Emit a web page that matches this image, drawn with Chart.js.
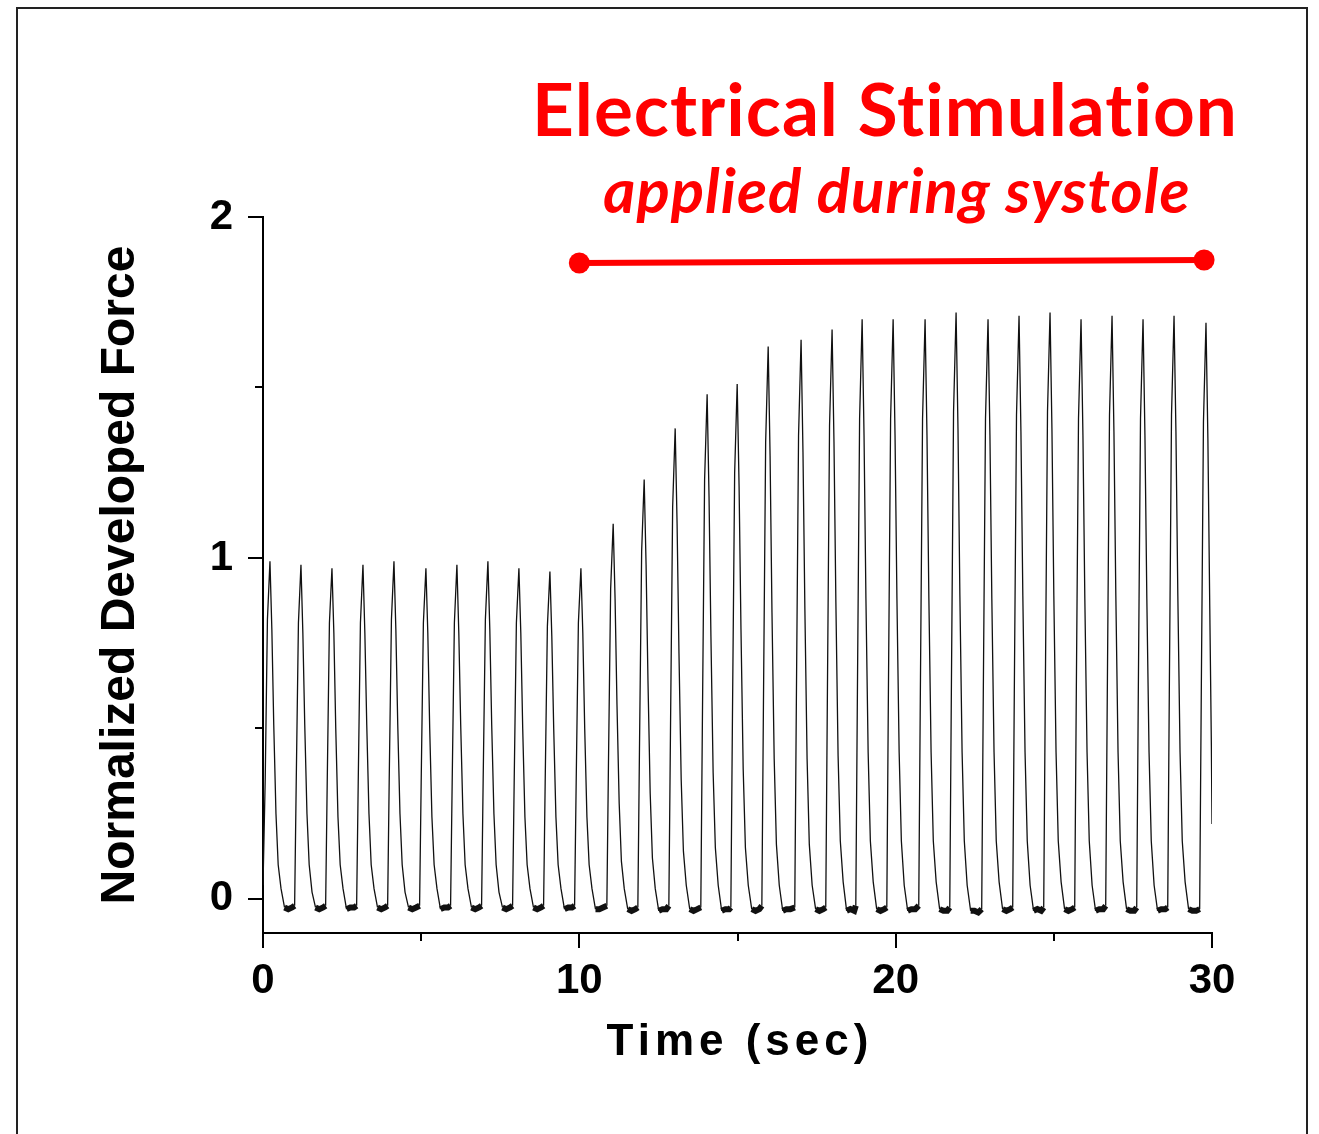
<!DOCTYPE html>
<html>
<head>
<meta charset="utf-8">
<title>Normalized Developed Force</title>
<script src="https://cdn.jsdelivr.net/npm/chart.js@4.4.1/dist/chart.umd.min.js"></script>
<style>
    body { margin: 0; background: #ffffff; }
    #chart { display: block; }
</style>
</head>
<body>
<canvas id="chart" width="1319" height="1134"></canvas>
<script>
// force trace, one beat per line (time in sec, normalized force)
var traceTime = [
    0.00, 0.07, 0.14, 0.22, 0.28, 0.34, 0.41, 0.48, 0.57, 0.68, 0.80, 0.92,
    1.00, 1.05, 1.12, 1.20, 1.26, 1.32, 1.39, 1.46, 1.55, 1.66, 1.78, 1.90,
    1.98, 2.03, 2.10, 2.18, 2.24, 2.30, 2.37, 2.44, 2.53, 2.64, 2.76, 2.88,
    2.96, 3.01, 3.08, 3.16, 3.22, 3.28, 3.35, 3.42, 3.51, 3.62, 3.74, 3.86,
    3.94, 3.99, 4.06, 4.14, 4.20, 4.26, 4.33, 4.40, 4.49, 4.60, 4.72, 4.84,
    4.95, 5.00, 5.07, 5.15, 5.21, 5.27, 5.34, 5.41, 5.50, 5.61, 5.73, 5.85,
    5.93, 5.98, 6.05, 6.13, 6.19, 6.25, 6.32, 6.39, 6.48, 6.59, 6.71, 6.83,
    6.91, 6.96, 7.03, 7.11, 7.17, 7.23, 7.30, 7.37, 7.46, 7.57, 7.69, 7.81,
    7.89, 7.94, 8.01, 8.09, 8.15, 8.21, 8.28, 8.35, 8.44, 8.55, 8.67, 8.79,
    8.87, 8.92, 8.99, 9.07, 9.13, 9.19, 9.26, 9.33, 9.42, 9.53, 9.65, 9.77,
    9.85, 9.90, 9.97, 10.05, 10.11, 10.17, 10.24, 10.31, 10.40, 10.51, 10.63, 10.75,
    10.87, 10.92, 10.99, 11.07, 11.13, 11.19, 11.26, 11.33, 11.42, 11.53, 11.65, 11.77,
    11.85, 11.90, 11.97, 12.05, 12.11, 12.17, 12.24, 12.31, 12.40, 12.51, 12.63, 12.75,
    12.83, 12.88, 12.95, 13.03, 13.09, 13.15, 13.22, 13.29, 13.38, 13.49, 13.61, 13.73,
    13.84, 13.89, 13.96, 14.04, 14.10, 14.16, 14.23, 14.30, 14.39, 14.50, 14.62, 14.74,
    14.79, 14.84, 14.91, 14.99, 15.05, 15.11, 15.18, 15.25, 15.34, 15.45, 15.57, 15.69,
    15.77, 15.82, 15.89, 15.97, 16.03, 16.09, 16.16, 16.23, 16.32, 16.43, 16.55, 16.67,
    16.81, 16.86, 16.93, 17.01, 17.07, 17.13, 17.20, 17.27, 17.36, 17.47, 17.59, 17.71,
    17.79, 17.84, 17.91, 17.99, 18.05, 18.11, 18.18, 18.25, 18.34, 18.45, 18.57, 18.69,
    18.74, 18.79, 18.86, 18.94, 19.00, 19.06, 19.13, 19.20, 19.29, 19.40, 19.52, 19.64,
    19.72, 19.77, 19.84, 19.92, 19.98, 20.04, 20.11, 20.18, 20.27, 20.38, 20.50, 20.62,
    20.73, 20.78, 20.85, 20.93, 20.99, 21.05, 21.12, 21.19, 21.28, 21.39, 21.51, 21.63,
    21.71, 21.76, 21.83, 21.91, 21.97, 22.03, 22.10, 22.17, 22.26, 22.37, 22.49, 22.61,
    22.72, 22.77, 22.84, 22.92, 22.98, 23.04, 23.11, 23.18, 23.27, 23.38, 23.50, 23.62,
    23.70, 23.75, 23.82, 23.90, 23.96, 24.02, 24.09, 24.16, 24.25, 24.36, 24.48, 24.60,
    24.68, 24.73, 24.80, 24.88, 24.94, 25.00, 25.07, 25.14, 25.23, 25.34, 25.46, 25.58,
    25.66, 25.71, 25.78, 25.86, 25.92, 25.98, 26.05, 26.12, 26.21, 26.32, 26.44, 26.56,
    26.64, 26.69, 26.76, 26.84, 26.90, 26.96, 27.03, 27.10, 27.19, 27.30, 27.42, 27.54,
    27.62, 27.67, 27.74, 27.82, 27.88, 27.94, 28.01, 28.08, 28.17, 28.28, 28.40, 28.52,
    28.60, 28.65, 28.72, 28.80, 28.86, 28.92, 28.99, 29.06, 29.15, 29.26, 29.38, 29.50,
    29.61, 29.66, 29.73, 29.81, 29.87, 29.93, 29.98, 30.00
];
var traceForce = [
    0.04, 0.35, 0.82, 0.99, 0.79, 0.51, 0.25, 0.10, 0.03, -0.025, -0.03, -0.025,
    -0.02, 0.34, 0.81, 0.98, 0.78, 0.51, 0.25, 0.10, 0.02, -0.025, -0.03, -0.025,
    -0.02, 0.34, 0.81, 0.97, 0.78, 0.50, 0.24, 0.10, 0.03, -0.03, -0.025, -0.025,
    -0.02, 0.34, 0.81, 0.98, 0.78, 0.51, 0.25, 0.10, 0.03, -0.025, -0.03, -0.025,
    -0.02, 0.35, 0.82, 0.99, 0.79, 0.51, 0.25, 0.10, 0.02, -0.025, -0.03, -0.025,
    -0.02, 0.34, 0.81, 0.97, 0.78, 0.50, 0.24, 0.10, 0.03, -0.03, -0.025, -0.025,
    -0.02, 0.34, 0.81, 0.98, 0.78, 0.51, 0.25, 0.10, 0.03, -0.025, -0.03, -0.025,
    -0.02, 0.35, 0.82, 0.99, 0.79, 0.51, 0.25, 0.10, 0.02, -0.025, -0.03, -0.025,
    -0.02, 0.34, 0.81, 0.97, 0.78, 0.50, 0.24, 0.10, 0.03, -0.025, -0.03, -0.025,
    -0.02, 0.34, 0.80, 0.96, 0.77, 0.50, 0.24, 0.10, 0.03, -0.03, -0.025, -0.025,
    -0.02, 0.34, 0.81, 0.97, 0.78, 0.50, 0.24, 0.10, 0.03, -0.03, -0.03, -0.025,
    -0.02, 0.39, 0.91, 1.10, 0.88, 0.57, 0.28, 0.11, 0.03, -0.03, -0.035, -0.03,
    -0.025, 0.43, 1.02, 1.23, 0.98, 0.64, 0.31, 0.12, 0.03, -0.035, -0.03, -0.03,
    -0.02, 0.48, 1.15, 1.38, 1.10, 0.72, 0.35, 0.14, 0.04, -0.03, -0.035, -0.03,
    -0.025, 0.52, 1.23, 1.48, 1.18, 0.77, 0.37, 0.15, 0.04, -0.035, -0.03, -0.03,
    -0.025, 0.53, 1.25, 1.51, 1.21, 0.79, 0.38, 0.15, 0.04, -0.03, -0.035, -0.03,
    -0.02, 0.57, 1.34, 1.62, 1.30, 0.84, 0.41, 0.16, 0.04, -0.035, -0.03, -0.03,
    -0.025, 0.57, 1.36, 1.64, 1.31, 0.85, 0.41, 0.16, 0.04, -0.03, -0.035, -0.03,
    -0.025, 0.58, 1.39, 1.67, 1.34, 0.87, 0.42, 0.17, 0.05, -0.035, -0.03, -0.035,
    -0.02, 0.60, 1.41, 1.70, 1.36, 0.88, 0.43, 0.17, 0.05, -0.03, -0.035, -0.03,
    -0.025, 0.60, 1.41, 1.70, 1.36, 0.88, 0.43, 0.17, 0.04, -0.035, -0.03, -0.03,
    -0.02, 0.60, 1.41, 1.70, 1.36, 0.88, 0.43, 0.17, 0.05, -0.03, -0.035, -0.035,
    -0.025, 0.60, 1.43, 1.72, 1.38, 0.89, 0.43, 0.17, 0.04, -0.035, -0.035, -0.04,
    -0.03, 0.60, 1.41, 1.70, 1.36, 0.88, 0.43, 0.17, 0.05, -0.03, -0.035, -0.03,
    -0.025, 0.60, 1.42, 1.71, 1.37, 0.89, 0.43, 0.17, 0.04, -0.035, -0.03, -0.035,
    -0.025, 0.60, 1.43, 1.72, 1.38, 0.89, 0.43, 0.17, 0.05, -0.03, -0.035, -0.03,
    -0.025, 0.60, 1.41, 1.70, 1.36, 0.88, 0.43, 0.17, 0.04, -0.035, -0.03, -0.03,
    -0.02, 0.60, 1.42, 1.71, 1.37, 0.89, 0.43, 0.17, 0.05, -0.03, -0.035, -0.035,
    -0.025, 0.60, 1.41, 1.70, 1.36, 0.88, 0.43, 0.17, 0.04, -0.035, -0.03, -0.03,
    -0.025, 0.60, 1.42, 1.71, 1.37, 0.89, 0.43, 0.17, 0.05, -0.03, -0.035, -0.035,
    -0.03, 0.59, 1.40, 1.69, 1.35, 0.85, 0.45, 0.22
];

// stimulation bar (start / end of the red line)
var stimTime = [10, 29.75];
var stimLevel = [1.865, 1.874];

var xTicks = [0, 5, 10, 15, 20, 25, 30];
var yTicks = [0, 0.5, 1, 1.5, 2];

var RED = "#ff0000";
var AXIS_FONT = "'Liberation Sans', Arial, sans-serif";

function fitFontSize(ctx, text, style, family, targetWidth) {
    ctx.font = style + " 100px " + family;
    return 100 * targetWidth / ctx.measureText(text).width;
}

var decorations = {
    id: "decorations",
    beforeDraw: function (chart) {
        var ctx = chart.ctx;
        ctx.save();
        ctx.fillStyle = "#ffffff";
        ctx.fillRect(0, 0, chart.width, chart.height);
        ctx.strokeStyle = "#222222";
        ctx.lineWidth = 2;
        ctx.strokeRect(17, 8, 1290, 1200);
        ctx.restore();
    },
    afterDraw: function (chart) {
        var ctx = chart.ctx;
        var xs = chart.scales.x;
        var ys = chart.scales.y;
        ctx.save();

        // tick marks, long for labelled ticks, short for the minor ones
        ctx.strokeStyle = "#000000";
        ctx.lineWidth = 2;
        xTicks.forEach(function (v) {
            var px = Math.round(xs.getPixelForValue(v));
            var len = v % 10 === 0 ? 15 : 8;
            ctx.beginPath();
            ctx.moveTo(px, ys.bottom);
            ctx.lineTo(px, ys.bottom + len);
            ctx.stroke();
        });
        yTicks.forEach(function (v) {
            var py = Math.round(ys.getPixelForValue(v));
            var len = v % 1 === 0 ? 15 : 8;
            ctx.beginPath();
            ctx.moveTo(xs.left, py);
            ctx.lineTo(xs.left - len, py);
            ctx.stroke();
        });

        // x axis title, letter spaced
        ctx.fillStyle = "#000000";
        ctx.font = "bold 44px " + AXIS_FONT;
        ctx.letterSpacing = "5px";
        ctx.textAlign = "left";
        ctx.textBaseline = "alphabetic";
        var title = "Time (sec)";
        var w = ctx.measureText(title).width - 5;
        ctx.fillText(title, (xs.left + xs.right) / 2 - w / 2, 1055);

        // annotation text (slight spacing keeps Lato from joining "ti")
        ctx.letterSpacing = "1px";
        ctx.fillStyle = RED;
        ctx.textAlign = "center";
        var fam = "Lato, 'Open Sans', sans-serif";
        var s1 = fitFontSize(ctx, "Electrical Stimulation", "bold", fam, 700);
        ctx.font = "bold " + s1 + "px " + fam;
        ctx.fillText("Electrical Stimulation", 885, 136);
        var s2 = fitFontSize(ctx, "applied during systole", "italic bold", fam, 579);
        ctx.font = "italic bold " + s2 + "px " + fam;
        ctx.fillText("applied during systole", 897, 213);
        ctx.letterSpacing = "0px";

        ctx.restore();
    }
};

function buildTrace() {
    var points = [];
    for (var i = 0; i < traceTime.length; i++) {
        points.push({ x: traceTime[i], y: traceForce[i] });
    }
    return points;
}

function buildStim() {
    var points = [];
    for (var i = 0; i < stimTime.length; i++) {
        points.push({ x: stimTime[i], y: stimLevel[i] });
    }
    return points;
}

var chart = new Chart(document.getElementById("chart"), {
    type: "line",
    data: {
        datasets: [
            {
                label: "Force",
                data: buildTrace(),
                borderColor: "#111111",
                borderWidth: 1.3,
                pointRadius: 0,
                tension: 0,
                segment: {
                    // the noisy diastolic baseline reads as a thick band
                    borderWidth: function (ctx) {
                        return (ctx.p0.parsed.y < 0 && ctx.p1.parsed.y < 0) ? 6 : 1.3;
                    }
                }
            },
            {
                label: "Stimulation",
                data: buildStim(),
                borderColor: RED,
                borderWidth: 6,
                pointRadius: 10.5,
                pointBackgroundColor: RED,
                pointBorderWidth: 0,
                clip: false
            }
        ]
    },
    options: {
        responsive: false,
        animation: false,
        devicePixelRatio: 1,
        layout: {
            padding: { left: 0, top: 217, right: 107, bottom: 0 }
        },
        plugins: {
            legend: { display: false },
            tooltip: { enabled: false }
        },
        scales: {
            x: {
                type: "linear",
                min: 0,
                max: 30,
                afterBuildTicks: function (scale) {
                    scale.ticks = xTicks.map(function (v) { return { value: v }; });
                },
                afterFit: function (scale) {
                    scale.height = 1134 - 933;
                },
                grid: { display: false, drawTicks: true, tickLength: 15 },
                border: { display: true, color: "#000000", width: 2 },
                ticks: {
                    color: "#000000",
                    padding: 8,
                    maxRotation: 0,
                    autoSkip: false,
                    font: { family: AXIS_FONT, size: 42, weight: "bold" },
                    callback: function (v) {
                        return v % 10 === 0 ? String(v) : "";
                    }
                }
            },
            y: {
                type: "linear",
                min: -0.1,
                max: 2,
                afterBuildTicks: function (scale) {
                    scale.ticks = yTicks.map(function (v) { return { value: v }; });
                },
                afterFit: function (scale) {
                    scale.width = 263;
                },
                grid: { display: false, drawTicks: true, tickLength: 15 },
                border: { display: true, color: "#000000", width: 2 },
                ticks: {
                    color: "#000000",
                    padding: 15,
                    autoSkip: false,
                    font: { family: AXIS_FONT, size: 42, weight: "bold" },
                    callback: function (v) {
                        return v % 1 === 0 ? String(v) : "";
                    }
                },
                title: {
                    display: true,
                    text: "Normalized Developed Force",
                    color: "#000000",
                    padding: { top: 92, bottom: 0 },
                    font: { family: AXIS_FONT, size: 48, weight: "bold" }
                }
            }
        }
    },
    plugins: [decorations]
});
</script>
</body>
</html>
